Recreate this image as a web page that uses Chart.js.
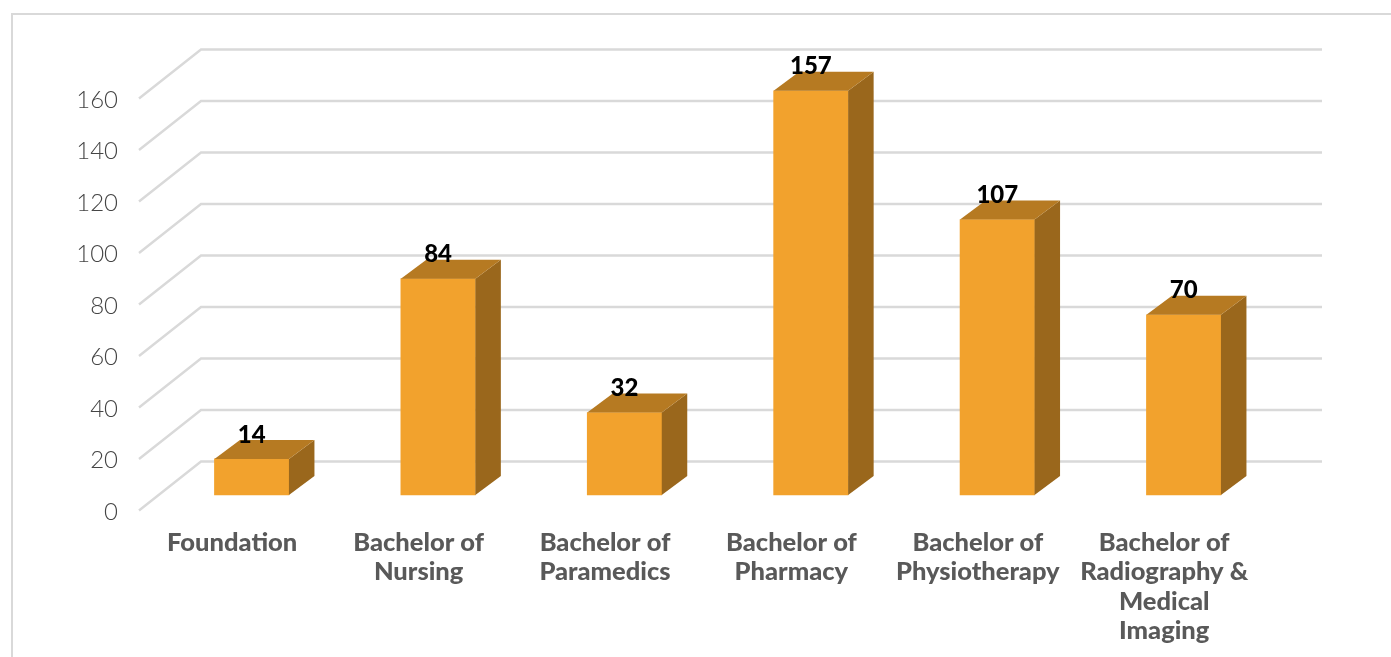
<!DOCTYPE html>
<html><head><meta charset="utf-8">
<style>html,body{margin:0;padding:0;background:#fff;overflow:hidden}canvas{display:block}</style>
<script src="https://cdn.jsdelivr.net/npm/chart.js@4"></script></head>
<body><canvas id="c" width="1391" height="657"></canvas>
<script>
const categories=[["Foundation"],["Bachelor of","Nursing"],["Bachelor of","Paramedics"],["Bachelor of","Pharmacy"],["Bachelor of","Physiotherapy"],["Bachelor of","Radiography &","Medical","Imaging"]];
const students=[14,84,32,157,107,70];
const FONT='Lato, "Open Sans", sans-serif';
const W={dx:62,dy:49}, F={dx:19.5,dy:-15}, B={dx:25.5,dy:19};
const grey='#d9d9d9';
const frame3d={
 id:'frame3d',
 beforeDatasetsDraw(ch){
  const c=ch.ctx,y=ch.scales.y,a=ch.chartArea;
  c.save();
  c.strokeStyle='#d9d9d9';c.lineWidth=2;c.beginPath();c.moveTo(12,657);c.lineTo(12,14);c.lineTo(1391,14);c.stroke();
  c.strokeStyle=grey;c.lineWidth=2.4;
  y.ticks.forEach(t=>{const p=y.getPixelForValue(t.value)+0.5;
   c.beginPath();c.moveTo(a.left,p);c.lineTo(a.left+W.dx,p-W.dy);c.lineTo(1322,p-W.dy);c.stroke();});
  c.restore();
  c.save();c.translate(F.dx,F.dy);
 },
 afterDatasetsDraw(ch){
  const c=ch.ctx;
  const bars=ch.getDatasetMeta(0).data;
  bars.forEach(b=>{
   const l=b.x-b.width/2,r=b.x+b.width/2,t=b.y,bt=b.base;
   c.fillStyle='#9A671C';c.beginPath();c.moveTo(r,t);c.lineTo(r+B.dx,t-B.dy);c.lineTo(r+B.dx,bt-B.dy);c.lineTo(r,bt);c.closePath();c.fill();
   c.fillStyle='#B67A22';c.beginPath();c.moveTo(l,t);c.lineTo(l+B.dx,t-B.dy);c.lineTo(r+B.dx,t-B.dy);c.lineTo(r,t);c.closePath();c.fill();
  });
  c.fillStyle='#000';c.font='900 24px '+FONT;c.textAlign='center';c.textBaseline='middle';
  bars.forEach((b,i)=>c.fillText(String(students[i]),b.x,b.y-24));
  c.restore();
 }
};
new Chart(document.getElementById('c'),{
 type:'bar',
 data:{labels:categories,datasets:[{data:students,backgroundColor:'#F2A22D',barThickness:74.5,clip:false}]},
 plugins:[frame3d],
 options:{responsive:false,animation:false,
  layout:{padding:{top:98,right:133.6,left:0,bottom:0}},
  plugins:{legend:{display:false},title:{display:false},tooltip:{enabled:false}},
  scales:{
   x:{grid:{display:false},border:{display:false},afterFit(s){s.height=147;},
      ticks:{color:'#595959',font:{family:FONT,weight:'900',size:25.5,lineHeight:1.153},padding:10,maxRotation:0,autoSkip:false}},
   y:{min:0,max:160,grid:{display:false,drawTicks:false},border:{display:false},afterFit(s){s.width=139;},
      ticks:{stepSize:20,color:'#454545',font:{family:FONT,weight:'300',size:24},padding:21,labelOffset:2}}
  }}
});
</script></body></html>
